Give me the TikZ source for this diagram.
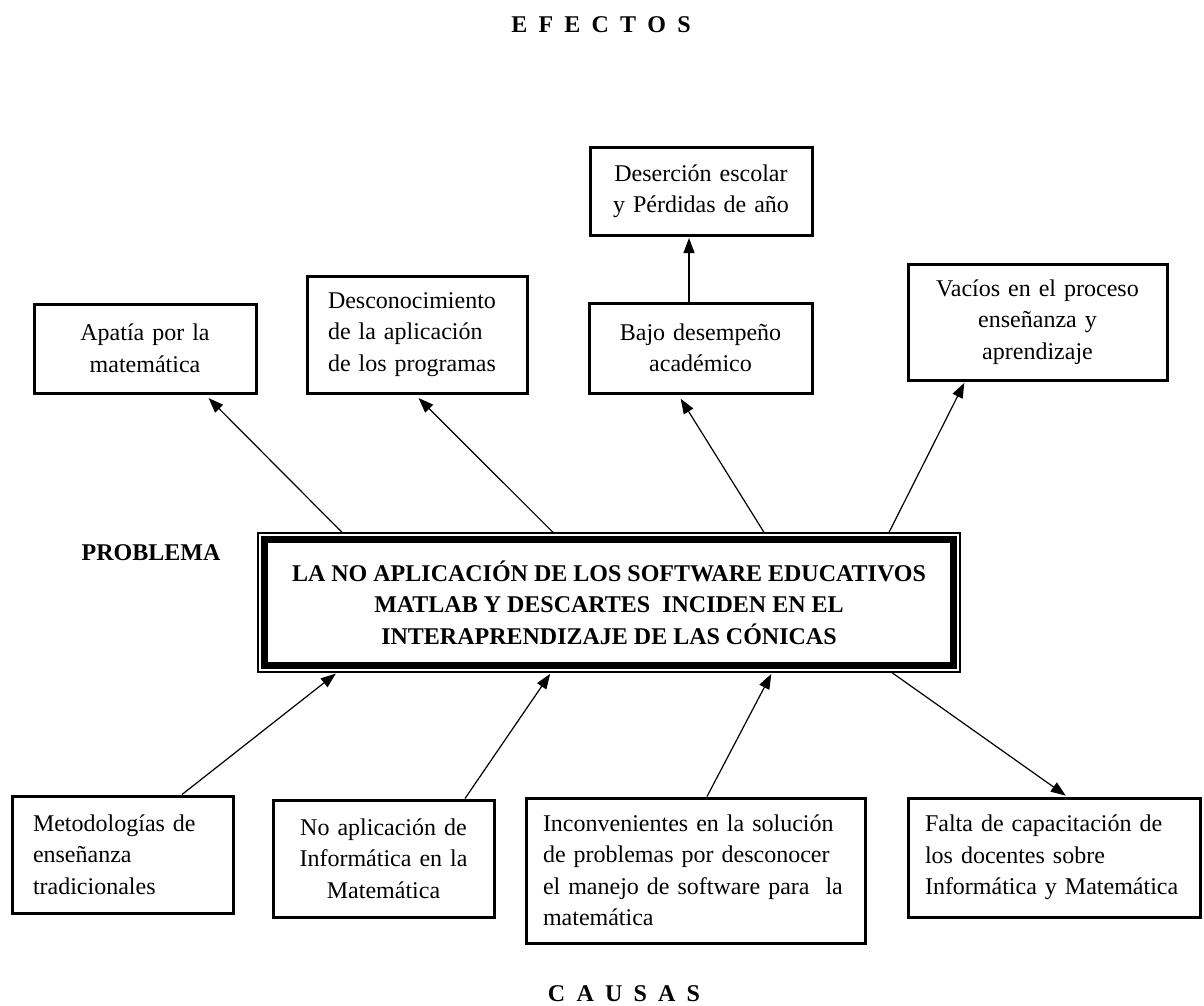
\documentclass[tikz,border=0pt]{standalone}
\usepackage{fontspec}
\setmainfont{Liberation Serif}
\usetikzlibrary{arrows.meta}
\newcommand{\gap}{\hspace{5.6pt}}

\begin{document}
\begin{tikzpicture}[x=0.5pt,y=-0.5pt,>={Triangle[length=7.5pt,width=5.5pt]},
    box/.style={draw,line width=1.5pt,inner xsep=10.5pt,inner ysep=0pt,
      font=\fontsize{12}{15.75}\selectfont},
    link/.style={->,line width=0.6pt,shorten >=0.75pt},
    head/.style={font=\bfseries\fontsize{12}{14}\selectfont}]

  \useasboundingbox (0,0) rectangle (1204,1006);

  % titulos
  \node[head] (efectos) at (601,25) {E\gap F\gap E\gap C\gap T\gap O\gap S};
  \node[head] (causas) at (624,994) {C\gap A\gap U\gap S\gap A\gap S};
  \node[head] (problema) at (151,553) {PROBLEMA};

  % problema central
  \node[draw,line width=0.65pt,minimum width=351pt,minimum height=69.5pt,align=center,
    font=\bfseries\fontsize{12}{15.75}\selectfont] (prob) at (609,602.5)
    {LA NO APLICACIÓN DE LOS SOFTWARE EDUCATIVOS\\MATLAB Y DESCARTES~ INCIDEN EN EL\\INTERAPRENDIZAJE DE LAS CÓNICAS};
  \draw[line width=3.5pt] ([shift={(7.5,7.5)}]prob.north west) rectangle ([shift={(-7.5,-7.5)}]prob.south east);

  % efectos
  \node[box,minimum width=111pt,text width=90pt,minimum height=44.5pt,align=center] (apatia) at (145,348.5)
    {Apatía por la\\matemática};
  \node[box,minimum width=110pt,text width=89pt,minimum height=58.5pt,align=left] (desco) at (417,334.5)
    {Desconocimiento\\de la aplicación\\de los programas};
  \node[box,minimum width=111.5pt,text width=90.5pt,minimum height=45pt,align=center] (bajo) at (700.5,348)
    {Bajo desempeño\\académico};
  \node[box,minimum width=111pt,text width=90pt,minimum height=44pt,align=center] (desercion) at (701,191)
    {Deserción escolar\\y Pérdidas de año};
  \node[box,minimum width=129.5pt,text width=108.5pt,minimum height=58pt,align=center] (vacios) at (1037.5,322)
    {Vacíos en el proceso\\enseñanza y\\aprendizaje};

  % causas
  \node[box,minimum width=110.5pt,text width=89.5pt,minimum height=58.5pt,align=left] (metodo) at (122.5,854.5)
    {Metodologías de\\enseñanza\\tradicionales};
  \node[box,minimum width=110.5pt,text width=89.5pt,minimum height=58.5pt,align=center] (noaplic) at (383.5,858.5)
    {No aplicación de\\Informática en la\\Matemática};
  \node[box,inner xsep=8.5pt,minimum width=169.5pt,text width=152.5pt,minimum height=72.5pt,align=left] (inconv) at (695.5,870.5)
    {Inconvenientes en la solución\\de problemas por desconocer\\el manejo de software para~ la\\matemática};
  \node[box,inner xsep=8.5pt,minimum width=146pt,text width=129pt,minimum height=59.5pt,align=left] (falta) at (1054,857.5)
    {Falta de capacitación de\\los docentes sobre\\Informática y Matemática};

  % flechas
  \draw[link,shorten >=2.5pt] (prob.north -| 342,0) -- (apatia.south -| 205,0);
  \draw[link,shorten >=2.5pt] (prob.north -| 553,0) -- (desco.south -| 415,0);
  \draw[link,shorten >=2.5pt] (prob.north -| 764,0) -- (bajo.south -| 678,0);
  \draw[link] (prob.north -| 889,0) -- (vacios.south -| 965,0);
  \draw[link] (bajo.north -| 689,0) -- (desercion.south -| 689,0);
  \draw[link] (metodo.north -| 182,0) -- (prob.south -| 337,0);
  \draw[link] (noaplic.north -| 465,0) -- (prob.south -| 551,0);
  \draw[link] (inconv.north -| 707,0) -- (prob.south -| 772,0);
  \draw[link] (prob.south -| 892,0) -- (falta.north -| 1067,0);
\end{tikzpicture}
\end{document}
